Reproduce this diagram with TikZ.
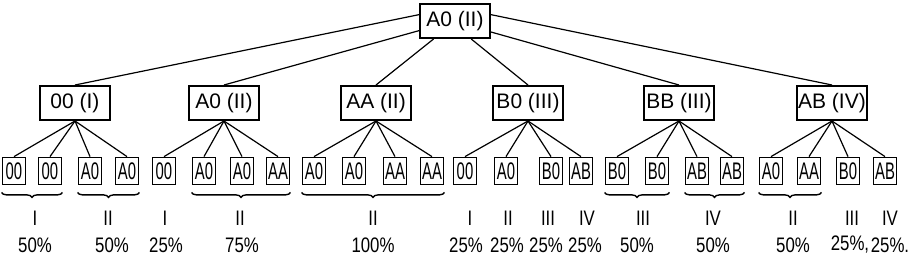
\documentclass[tikz,border=0pt]{standalone}
\usepackage{fontspec}
\setmainfont{Liberation Sans}
\newfontfamily\leaffont[FakeStretch=0.62]{Liberation Sans}
\newfontfamily\tagfont[FakeStretch=0.8]{Liberation Sans}
\usetikzlibrary{decorations.pathreplacing}
\tikzset{
  topbox/.style={draw, line width=2pt, minimum width=70pt, minimum height=34pt, inner sep=1pt, font=\fontsize{21}{24}\selectfont},
  leafbox/.style={draw, line width=1.8pt, minimum width=23pt, minimum height=27pt, inner sep=1pt, font=\leaffont\fontsize{24}{26}\selectfont},
  tag/.style={inner sep=0pt, font=\tagfont\fontsize{21}{23}\selectfont},
  link/.style={line width=1.2pt},
  grp/.style={line width=1.4pt, decorate, decoration={brace, mirror, amplitude=5pt}}
}
\begin{document}
\begin{tikzpicture}[x=1pt,y=-1pt]
\useasboundingbox (0,0) rectangle (911,259);
% root and second row
\node[topbox] (root) at (455,21) {A0 (II)};
\node[topbox] (c1) at (75,103) {00 (I)};
\node[topbox] (c2) at (224,103) {A0 (II)};
\node[topbox] (c3) at (376,103) {AA (II)};
\node[topbox] (c4) at (528,103) {B0 (III)};
\node[topbox] (c5) at (679,103) {BB (III)};
\node[topbox] (c6) at (832,103) {AB (IV)};
\draw[link] (root.170) -- (c1.north);
\draw[link] (root.195) -- (c2.north);
\draw[link] (root.220) -- (c3.north);
\draw[link] (root.312) -- (c4.north);
\draw[link] (root.343) -- (c5.north);
\draw[link] (root.10) -- (c6.north);
% leaves
\node[leafbox] (l1) at (14,171) {00};
\node[leafbox] (l2) at (50,171) {00};
\node[leafbox] (l3) at (90,171) {A0};
\node[leafbox] (l4) at (127,171) {A0};
\node[leafbox] (l5) at (164,171) {00};
\node[leafbox] (l6) at (204,171) {A0};
\node[leafbox] (l7) at (242,171) {A0};
\node[leafbox] (l8) at (278,171) {AA};
\node[leafbox] (l9) at (314,171) {A0};
\node[leafbox] (l10) at (354,171) {A0};
\node[leafbox] (l11) at (395,171) {AA};
\node[leafbox] (l12) at (432,171) {AA};
\node[leafbox] (l13) at (465,171) {00};
\node[leafbox] (l14) at (506,171) {A0};
\node[leafbox] (l15) at (551,171) {B0};
\node[leafbox] (l16) at (581,171) {AB};
\node[leafbox] (l17) at (617,171) {B0};
\node[leafbox] (l18) at (657,171) {B0};
\node[leafbox] (l19) at (697,171) {AB};
\node[leafbox] (l20) at (732,171) {AB};
\node[leafbox] (l21) at (771,171) {A0};
\node[leafbox] (l22) at (809,171) {AA};
\node[leafbox] (l23) at (848,171) {B0};
\node[leafbox] (l24) at (885,171) {AB};
\draw[link] (c1.south) -- (l1.north);
\draw[link] (c1.south) -- (l2.north);
\draw[link] (c1.south) -- (l3.north);
\draw[link] (c1.south) -- (l4.north);
\draw[link] (c2.south) -- (l5.north);
\draw[link] (c2.south) -- (l6.north);
\draw[link] (c2.south) -- (l7.north);
\draw[link] (c2.south) -- (l8.north);
\draw[link] (c3.south) -- (l9.north);
\draw[link] (c3.south) -- (l10.north);
\draw[link] (c3.south) -- (l11.north);
\draw[link] (c3.south) -- (l12.north);
\draw[link] (c4.south) -- (l13.north);
\draw[link] (c4.south) -- (l14.north);
\draw[link] (c4.south) -- (l15.north);
\draw[link] (c4.south) -- (l16.north);
\draw[link] (c5.south) -- (l17.north);
\draw[link] (c5.south) -- (l18.north);
\draw[link] (c5.south) -- (l19.north);
\draw[link] (c5.south) -- (l20.north);
\draw[link] (c6.south) -- (l21.north);
\draw[link] (c6.south) -- (l22.north);
\draw[link] (c6.south) -- (l23.north);
\draw[link] (c6.south) -- (l24.north);
% braces
\draw[grp] ([yshift=-7pt]l1.south west) -- ([yshift=-7pt]l2.south east);
\draw[grp] ([yshift=-7pt]l3.south west) -- ([yshift=-7pt]l4.south east);
\draw[grp] ([yshift=-7pt]l6.south west) -- ([yshift=-7pt]l8.south east);
\draw[grp] ([yshift=-7pt]l9.south west) -- ([yshift=-7pt]l12.south east);
\draw[grp] ([yshift=-7pt]l17.south west) -- ([yshift=-7pt]l18.south east);
\draw[grp] ([yshift=-7pt]l19.south west) -- ([yshift=-7pt]l20.south east);
\draw[grp] ([yshift=-7pt]l21.south west) -- ([yshift=-7pt]l22.south east);
% class and share labels
\node[tag] (r1) at (35,218) {I};
\node[tag] (r2) at (108,218) {II};
\node[tag] (r3) at (165,218) {I};
\node[tag] (r4) at (240,218) {II};
\node[tag] (r5) at (373,218) {II};
\node[tag] (r6) at (470,218) {I};
\node[tag] (r7) at (508,218) {II};
\node[tag] (r8) at (548,218) {III};
\node[tag] (r9) at (587,218) {IV};
\node[tag] (r10) at (643,218) {III};
\node[tag] (r11) at (713,218) {IV};
\node[tag] (r12) at (793,218) {II};
\node[tag] (r13) at (852,218) {III};
\node[tag] (r14) at (890,218) {IV};
\node[tag] (p1) at (35,245) {50\%};
\node[tag] (p2) at (112,245) {50\%};
\node[tag] (p3) at (166,245) {25\%};
\node[tag] (p4) at (242,245) {75\%};
\node[tag] (p5) at (373,245) {100\%};
\node[tag] (p6) at (466,245) {25\%};
\node[tag] (p7) at (507,245) {25\%};
\node[tag] (p8) at (546,245) {25\%};
\node[tag] (p9) at (585,245) {25\%};
\node[tag] (p10) at (637,245) {50\%};
\node[tag] (p11) at (713,245) {50\%};
\node[tag] (p12) at (793,245) {50\%};
\node[tag] (p13) at (850,245) {25\%,};
\node[tag] (p14) at (890,245) {25\%.};
\end{tikzpicture}
\end{document}
